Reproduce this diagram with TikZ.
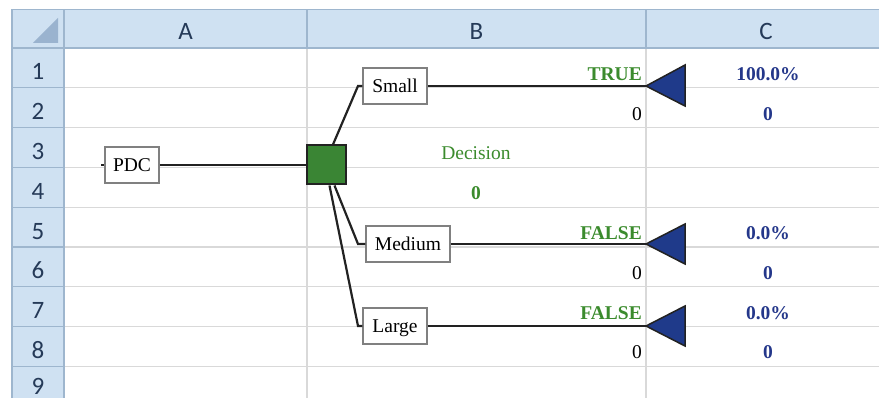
\documentclass[tikz,border=0pt]{standalone}
\usepackage{fontspec}
\setmainfont{Liberation Serif}
\newfontfamily\hdrfont{Carlito}
\usetikzlibrary{calc}
\definecolor{hdrfill}{HTML}{CFE1F2}
\definecolor{hdrline}{HTML}{9EB6CE}
\definecolor{hdrtri}{HTML}{9AB3CF}
\definecolor{hdrtext}{HTML}{253A58}
\definecolor{gridcol}{HTML}{D9D9D9}
\definecolor{tgreen}{HTML}{3B8B2D}
\definecolor{tblue}{HTML}{24378A}
\definecolor{sqgreen}{HTML}{3A8534}
\definecolor{triblue}{HTML}{1F3A8A}
\definecolor{linecol}{HTML}{222222}
\definecolor{boxgray}{HTML}{808080}
\tikzset{
  hdr/.style={text=hdrtext, font=\hdrfont\fontsize{25}{27}\selectfont, inner sep=0pt, anchor=base},
  tbox/.style={draw=boxgray, line width=1.5pt, fill=white, inner sep=0pt, minimum height=36pt,
    text height=14pt, text depth=0pt, font=\fontsize{19.5}{20}\selectfont},
  conn/.style={draw=linecol, line width=2.2pt},
  gbold/.style={text=tgreen, font=\fontsize{19.5}{20}\selectfont\bfseries, inner sep=0pt},
  bbold/.style={text=tblue, font=\fontsize{19.5}{20}\selectfont\bfseries, inner sep=0pt, anchor=base},
  plain/.style={text=black, font=\fontsize{19.5}{20}\selectfont, inner sep=0pt, anchor=base east},
  endtri/.style={fill=triblue, draw=linecol, line width=1.5pt, line join=miter},
}
\begin{document}
\begin{tikzpicture}[x=1pt,y=-1pt]
\useasboundingbox (0,0) rectangle (879,398);
\clip (0,0) rectangle (879,398);
% grid
\foreach \k in {1,...,9} {
  \draw[gridcol, line width=1.2pt] (64,48+39.8*\k) -- (879,48+39.8*\k);
}
\draw[gridcol, line width=1.2pt] (307,48) -- (307,398);
\draw[gridcol, line width=1.2pt] (646,48) -- (646,398);
% headers
\fill[hdrfill] (12,9.5) rectangle (879,48);
\fill[hdrfill] (12,48) rectangle (64,398);
\draw[hdrline, line width=1.2pt] (12,9.5) -- (879,9.5);
\draw[hdrline, line width=1.2pt] (12,48) -- (879,48);
\draw[hdrline, line width=1.2pt] (12,9.5) -- (12,398);
\draw[hdrline, line width=1.2pt] (64,9.5) -- (64,398);
\draw[hdrline, line width=1.2pt] (307,9.5) -- (307,48);
\draw[hdrline, line width=1.2pt] (646,9.5) -- (646,48);
\foreach \k in {1,...,9} {
  \draw[hdrline, line width=1.2pt] (12,48+39.8*\k) -- (64,48+39.8*\k);
}
\fill[hdrtri] (33,43) -- (58,43) -- (58,18) -- cycle;
\node[hdr] (colA) at (185.5,39.5) {A};
\node[hdr] (colB) at (476.5,39.5) {B};
\node[hdr] (colC) at (766,39.5) {C};
\foreach \k in {1,...,8} {
  \node[hdr] (row\k) at (38,48+39.8*\k-7.8) {\k};
}
\node[hdr] (row9) at (38,394) {9};
% tree nodes
\node[tbox, minimum width=54pt] (pdc) at (132,165) {PDC};
\node[draw=linecol, line width=2pt, fill=sqgreen, minimum size=39pt, inner sep=0pt] (sq) at (326.5,165) {};
\node[tbox, minimum width=64pt] (small) at (395,86) {Small};
\node[tbox, minimum width=84pt] (medium) at (408,244) {Medium};
\node[tbox, minimum width=64pt] (large) at (395,326) {Large};
\coordinate (pdcin) at (101,165);
\coordinate (s1) at (358,86);
\coordinate (m1) at (358,244);
\coordinate (l1) at (358,326);
\coordinate (t1) at (646,86);
\coordinate (t2) at (646,244);
\coordinate (t3) at (646,326);
% connectors
\draw[conn] (pdcin) -- (pdc.west);
\draw[conn] (pdc.east) -- (sq.west);
\draw[conn] ($(sq.north)+(6.5,0)$) -- (s1) -- (small.west);
\draw[conn] ($(sq.south)+(8,0)$) -- (m1) -- (medium.west);
\draw[conn] ($(sq.south)+(3,0)$) -- (l1) -- (large.west);
\draw[conn] (small.east) -- (t1);
\draw[conn] (medium.east) -- (t2);
\draw[conn] (large.east) -- (t3);
\draw[endtri] (t1) -- ++(39,-21) -- ++(0,41) -- cycle;
\draw[endtri] (t2) -- ++(39,-20) -- ++(0,40) -- cycle;
\draw[endtri] (t3) -- ++(39,-20) -- ++(0,40) -- cycle;
% labels
\node[gbold, anchor=base east] (lt1) at (642,80.3) {TRUE};
\node[plain] (lv1) at (642,120.1) {0};
\node[bbold] (lp1) at (768,80.3) {100.0\%};
\node[bbold] (lq1) at (768,120.1) {0};
\node[text=tgreen, font=\fontsize{19.5}{20}\selectfont, inner sep=0pt, anchor=base] (dec) at (476,159.9) {Decision};
\node[gbold, anchor=base] (decv) at (476,199.7) {0};
\node[gbold, anchor=base east] (lt2) at (642,239.5) {FALSE};
\node[plain] (lv2) at (642,279.3) {0};
\node[bbold] (lp2) at (768,239.5) {0.0\%};
\node[bbold] (lq2) at (768,279.3) {0};
\node[gbold, anchor=base east] (lt3) at (642,319.1) {FALSE};
\node[plain] (lv3) at (642,358.9) {0};
\node[bbold] (lp3) at (768,319.1) {0.0\%};
\node[bbold] (lq3) at (768,358.9) {0};
\end{tikzpicture}
\end{document}
